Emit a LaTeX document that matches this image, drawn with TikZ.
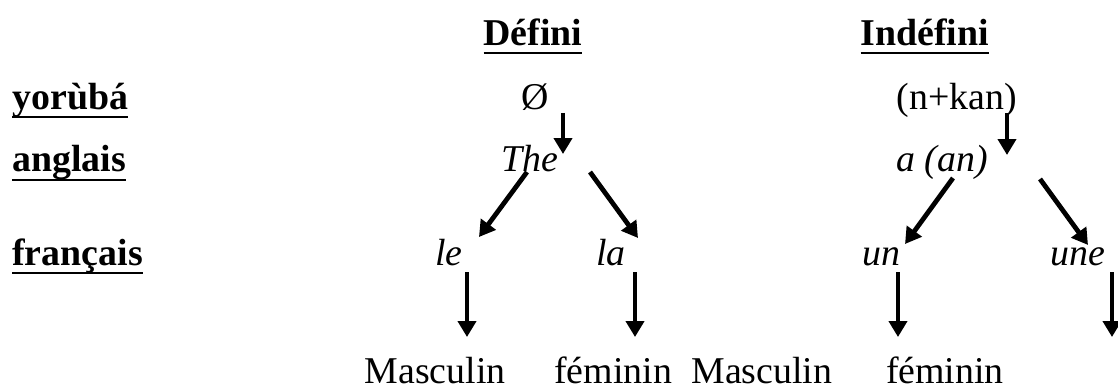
\documentclass[tikz,border=0pt]{standalone}
\usepackage{fontspec}
\setmainfont{Liberation Serif}
\usepackage{tikz}
\usetikzlibrary{arrows.meta,positioning}
\newcommand{\uhead}[1]{\setbox0\hbox{\textbf{#1}}\rlap{\copy0}\rule[-7.1pt]{\wd0}{2.2pt}}

\begin{document}
\begin{tikzpicture}[
  font=\fontsize{28.5}{34}\selectfont,
  hd/.style={inner sep=0pt,anchor=base},
  lng/.style={inner sep=0pt,anchor=base west},
  w/.style={inner sep=0pt,anchor=base},
  wi/.style={inner sep=0pt,anchor=base,font=\fontsize{28.5}{34}\selectfont\itshape},
  arr/.style={-{Triangle[length=12pt,width=13.5pt]},line width=3.6pt}]
  \useasboundingbox (0,0) rectangle (29.58,10.266);
  % column heads
  \node[hd] (defini) at (14.10,9.075) {\uhead{Défini}};
  \node[hd] (indefini) at (24.47,9.075) {\uhead{Indéfini}};
  % languages
  \node[lng] (yoruba) at (0.32,7.38) {\uhead{yorùbá}};
  \node[lng] (anglais) at (0.32,5.715) {\uhead{anglais}};
  \node[lng] (francais) at (0.32,3.254) {\uhead{français}};
  % defini
  \node[w]  (zero) at (14.155,7.38) {Ø};
  \node[wi] (the) at (14.02,5.715) {The};
  \node[wi] (le) at (11.88,3.254) {le};
  \node[wi] (la) at (16.17,3.254) {la};
  \node[w]  (masc1) at (11.51,0.106) {Masculin};
  \node[w]  (fem1) at (16.22,0.106) {féminin};
  % indefini
  \node[w]  (nkan) at (25.32,7.38) {(n+kan)};
  \node[wi] (aan) at (24.92,5.715) {a (an)};
  \node[wi] (un) at (23.31,3.254) {un};
  \node[wi] (une) at (28.52,3.254) {une};
  \node[w]  (masc2) at (20.16,0.106) {Masculin};
  \node[w]  (fem2) at (25.00,0.106) {féminin};
  % arrow ends
  \coordinate (zero-s) at (14.896,7.276);
  \coordinate (the-n) at (14.896,6.191);
  \coordinate (the-sw) at (13.943,5.715);
  \coordinate (le-n) at (12.673,3.995);
  \coordinate (the-se) at (15.610,5.715);
  \coordinate (la-n) at (16.880,3.969);
  \coordinate (le-s) at (12.356,3.069);
  \coordinate (masc1-n) at (12.356,1.349);
  \coordinate (la-s) at (16.801,3.069);
  \coordinate (fem1-n) at (16.801,1.349);
  \coordinate (nkan-s) at (26.643,7.276);
  \coordinate (aan-n) at (26.643,6.165);
  \coordinate (aan-sw) at (25.215,5.556);
  \coordinate (un-n) at (23.945,3.810);
  \coordinate (aan-se) at (27.516,5.530);
  \coordinate (une-n) at (28.786,3.784);
  \coordinate (un-s) at (23.759,3.069);
  \coordinate (fem2-n) at (23.759,1.349);
  \coordinate (une-s) at (29.421,3.069);
  \coordinate (une-d) at (29.421,1.349);
  \draw[arr] (zero-s) -- (the-n);
  \draw[arr] (the-sw) -- (le-n);
  \draw[arr] (the-se) -- (la-n);
  \draw[arr] (le-s) -- (masc1-n);
  \draw[arr] (la-s) -- (fem1-n);
  \draw[arr] (nkan-s) -- (aan-n);
  \draw[arr] (aan-sw) -- (un-n);
  \draw[arr] (aan-se) -- (une-n);
  \draw[arr] (un-s) -- (fem2-n);
  \draw[arr] (une-s) -- (une-d);
\end{tikzpicture}
\end{document}
